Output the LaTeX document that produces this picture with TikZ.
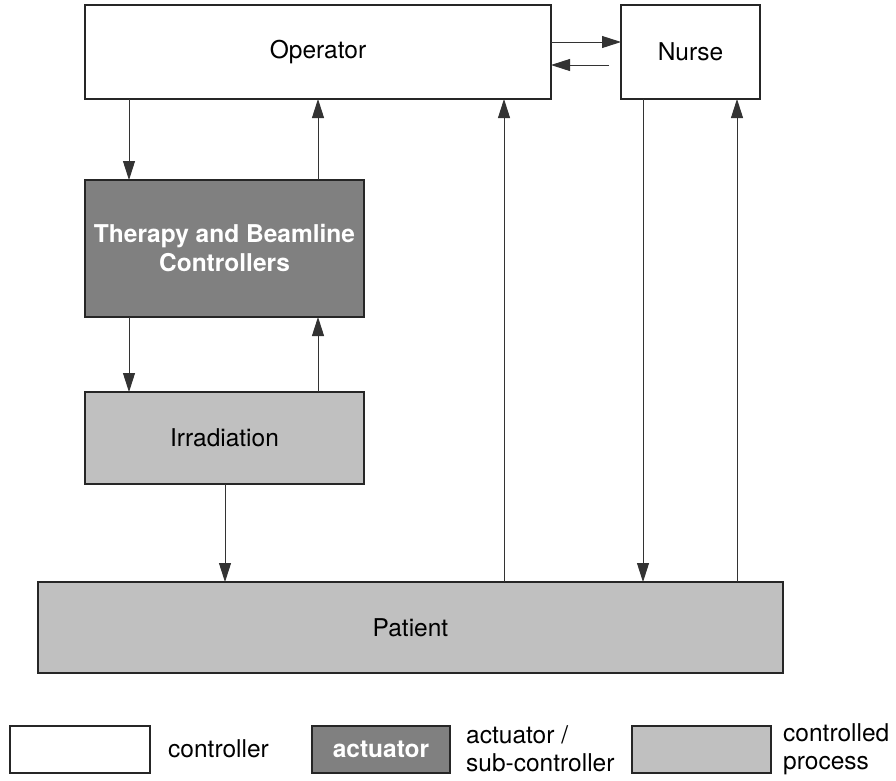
\documentclass[tikz,border=0pt]{standalone}
\usepackage{fontspec}
\setmainfont{TeX Gyre Heros}
\usetikzlibrary{arrows.meta}
\definecolor{actfill}{HTML}{808080}
\definecolor{procfill}{HTML}{C0C0C0}
\begin{document}
\begin{tikzpicture}[x=1pt,y=-1pt,
  box/.style={draw=black!85,line width=1.4pt,inner sep=0pt,outer sep=0pt,
    font=\fontsize{24.5}{29}\selectfont,align=center},
  ctrlbox/.style={box,fill=white},
  actbox/.style={box,fill=actfill,text=white,font=\fontsize{24.5}{29}\selectfont\bfseries},
  procbox/.style={box,fill=procfill},
  link/.style={draw=black!80,line width=0.9pt,-{Triangle[length=19pt,width=12pt]}},
  legtext/.style={font=\fontsize{24.5}{28}\selectfont,align=left,anchor=west,inner sep=0pt}]
\useasboundingbox (0,0) rectangle (896,780);

% main blocks
\node[ctrlbox,minimum width=466pt,minimum height=94pt] (op) at (318,52) {Operator};
\node[ctrlbox,minimum width=139pt,minimum height=94pt] (nu) at (690.5,52) {Nurse};
\node[actbox,minimum width=279pt,minimum height=137pt] (th) at (224.5,248.5) {Therapy and Beamline\\Controllers};
\node[procbox,minimum width=279pt,minimum height=92pt] (ir) at (224.5,438) {Irradiation};
\node[procbox,minimum width=745pt,minimum height=91pt] (pa) at (410.5,627.5) {Patient};

% columns and rows used by the connectors
\coordinate (cA) at (129,0);
\coordinate (cB) at (318,0);
\coordinate (cC) at (225,0);
\coordinate (cD) at (504,0);
\coordinate (cE) at (643,0);
\coordinate (cF) at (737,0);
\coordinate (rA) at (0,42);
\coordinate (nb) at (609,65);

% connectors
\draw[link] (op.east |- rA) -- (nu.west |- rA);
\draw[link] (nb) -- (nb -| op.east);
\draw[link] (op.south -| cA) -- (th.north -| cA);
\draw[link] (th.north -| cB) -- (op.south -| cB);
\draw[link] (th.south -| cA) -- (ir.north -| cA);
\draw[link] (ir.north -| cB) -- (th.south -| cB);
\draw[link] (ir.south -| cC) -- (pa.north -| cC);
\draw[link] (pa.north -| cD) -- (op.south -| cD);
\draw[link] (nu.south -| cE) -- (pa.north -| cE);
\draw[link] (pa.north -| cF) -- (nu.south -| cF);

% legend
\node[ctrlbox,minimum width=140pt,minimum height=47pt] (lg1) at (80,749.5) {};
\node[legtext] (lt1) at (168,749) {controller};
\node[actbox,minimum width=138pt,minimum height=47pt] (lg2) at (381,749.5) {actuator};
\node[legtext] (lt2) at (466,749) {actuator /\\sub-controller};
\node[procbox,minimum width=139pt,minimum height=47pt] (lg3) at (701.5,749.5) {};
\node[legtext] (lt3) at (783,749) {controlled\\process};
\end{tikzpicture}
\end{document}
